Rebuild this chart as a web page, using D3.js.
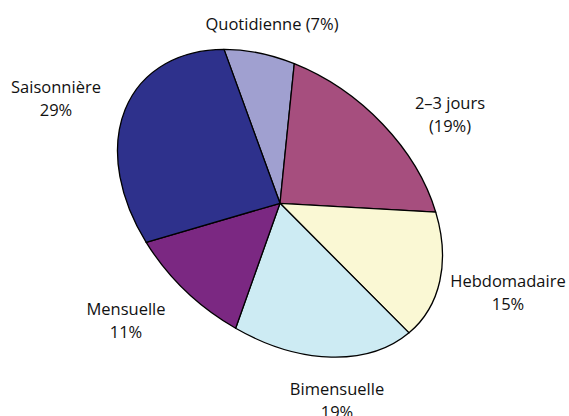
<!DOCTYPE html>
<html>
<head>
<meta charset="utf-8">
<script src="https://cdn.jsdelivr.net/npm/d3@7"></script>
<style>
  html, body { margin: 0; padding: 0; background: #fff; }
  text { font-family: "Open Sans", "Noto Sans", sans-serif; font-size: 16.5px; fill: #111; }
</style>
</head>
<body>
<div id="chart"></div>
<script>
(() => {
"use strict";

const WIDTH = 569, HEIGHT = 416;

// frequency categories, clockwise from the top
const categories = ["Quotidienne", "2–3 jours", "Hebdomadaire", "Bimensuelle", "Mensuelle", "Saisonnière"];
const shares = [7, 19, 15, 19, 11, 29];
const labelLines = [
  ["Quotidienne (7%)"],
  ["2–3 jours", "(19%)"],
  ["Hebdomadaire", "15%"],
  ["Bimensuelle", "19%"],
  ["Mensuelle", "11%"],
  ["Saisonnière", "29%"]
];
const colors = ["#a0a0d0", "#a64e7e", "#faf8d4", "#cdebf3", "#7b2882", "#2e318c"];

// label anchors (centre of first baseline), placed by hand like the original
const labelAt = [[272, 30], [450, 109], [508, 287], [337, 395], [126, 315], [56, 93]];

let svg = d3.select("#chart").append("svg")
  .attr("width", WIDTH)
  .attr("height", HEIGHT);

// the pie is drawn as a circle, then sheared into the slanted ellipse
let cx = 280, cy = 203.3, R = 153;
let pie = d3.pie().sort(null).value(d => d);
let arc = d3.arc().innerRadius(0).outerRadius(R);

let g = svg.append("g")
  .attr("transform", `matrix(0.997,-0.005,0.366,1.006,${cx},${cy})`);

g.selectAll("path")
  .data(pie(shares))
  .join("path")
  .attr("d", arc)
  .attr("fill", (d, i) => colors[i])
  .attr("stroke", "#000")
  .attr("stroke-width", 1.3)
  .attr("stroke-linejoin", "round")
  .attr("vector-effect", "non-scaling-stroke");

let labels = svg.selectAll("text.lbl")
  .data(categories)
  .join("text")
  .attr("class", "lbl")
  .attr("text-anchor", "middle")
  .attr("x", (d, i) => labelAt[i][0])
  .attr("y", (d, i) => labelAt[i][1]);

labels.selectAll("tspan")
  .data((d, i) => labelLines[i].map(t => ({ t: t, x: labelAt[i][0] })))
  .join("tspan")
  .attr("x", d => d.x)
  .attr("dy", (d, j) => j === 0 ? 0 : 23)
  .text(d => d.t);
})();
</script>
</body>
</html>
